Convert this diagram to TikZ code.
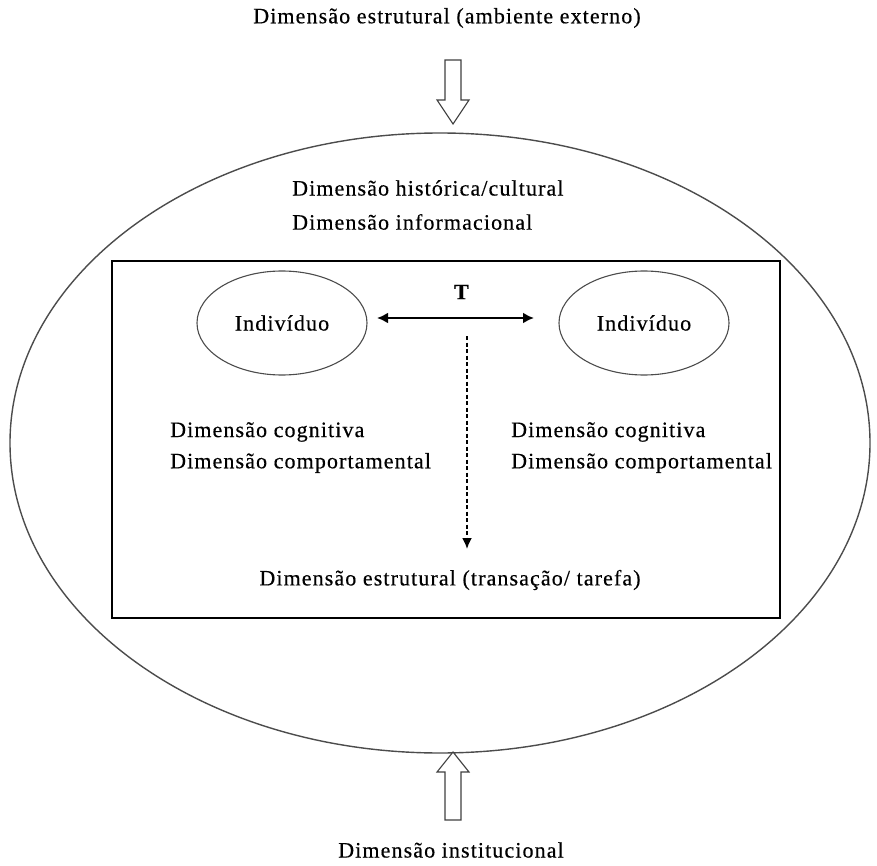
\documentclass[tikz,border=0pt]{standalone}
\usepackage{fontspec}
\setmainfont{Liberation Serif}[LetterSpace=5,FakeBold=0.4]
\usetikzlibrary{shapes.geometric,arrows.meta}
\begin{document}
\begin{tikzpicture}[x=1pt,y=-1pt,
  lbl/.style={inner sep=0pt, font=\fontsize{22}{26}\selectfont},
  bigell/.style={draw=black!70, line width=1.4pt, ellipse, inner sep=0pt},
  indiv/.style={draw=black!70, line width=1.1pt, ellipse, inner sep=0pt, minimum width=170pt, minimum height=104pt, font=\fontsize{22}{26}\selectfont},
  frame/.style={draw=black, line width=2pt, inner sep=0pt},
  blockarrow/.style={draw=black!75, line width=1.1pt, fill=white, line join=miter},
  conn/.style={line width=2.4pt, {Latex[length=11pt,width=11pt]}-{Latex[length=11pt,width=11pt]}},
  dconn/.style={line width=1.8pt, dash pattern=on 4pt off 2.5pt, -{Latex[length=11pt,width=10pt]}}
]
\useasboundingbox (0,0) rectangle (877,866);
% outer ellipse and frame
\node[bigell, minimum width=860pt, minimum height=620pt] (outer) at (440,443) {};
\node[frame, minimum width=668pt, minimum height=357pt] (box) at (446,439.5) {};
% top / bottom labels
\node[lbl] (topl) at (447,18) {Dimensão estrutural (ambiente externo)};
\node[lbl] (botl) at (451,850) {Dimensão institucional};
% block arrows
\draw[blockarrow] (445,60) -- (461,60) -- (461,100) -- (469,100) -- (453,124) -- (437,100) -- (445,100) -- cycle;
\draw[blockarrow] (445,820) -- (461,820) -- (461,772) -- (469,772) -- (453,752) -- (437,772) -- (445,772) -- cycle;
% upper texts
\node[lbl, anchor=west] (hist) at (292,188) {Dimensão histórica/cultural};
\node[lbl, anchor=west] (info) at (292,222) {Dimensão informacional};
% individuals
\node[indiv] (ind1) at (282,323) {Indivíduo};
\node[indiv] (ind2) at (644,323) {Indivíduo};
\node[lbl] (T) at (462,292) {\textbf{T}};
\coordinate (tl) at (377,318);
\coordinate (tr) at (534,318);
\draw[conn] (tl) -- (tr);
% dimension texts
\node[lbl, anchor=west] (cog1) at (170,432) {Dimensão cognitiva};
\node[lbl, anchor=west] (com1) at (170,463) {Dimensão comportamental};
\node[lbl, anchor=west] (cog2) at (511,432) {Dimensão cognitiva};
\node[lbl, anchor=west] (com2) at (511,463) {Dimensão comportamental};
\node[lbl] (estr) at (450,580) {Dimensão estrutural (transação/ tarefa)};
\coordinate (ds) at (467,336);
\coordinate (de) at (467,549);
\draw[dconn] (ds) -- (de);
\end{tikzpicture}
\end{document}
